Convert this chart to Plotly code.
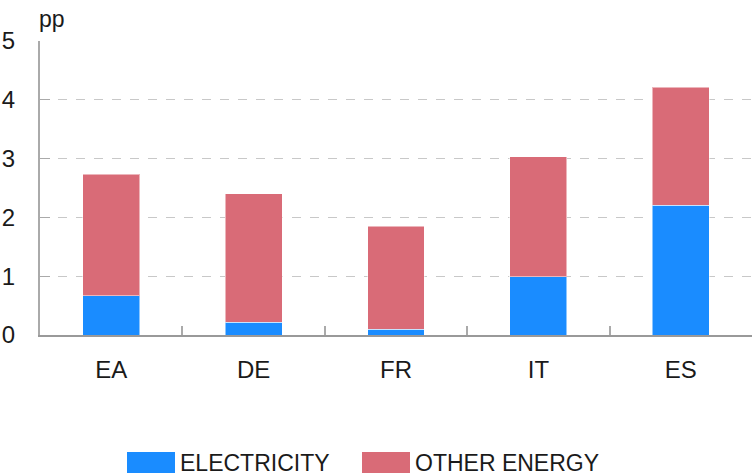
import plotly.graph_objects as go

categories = ["EA", "DE", "FR", "IT", "ES"]
electricity = [0.67, 0.22, 0.10, 0.99, 2.21]
other_energy = [2.06, 2.18, 1.75, 2.04, 2.00]
series_names = ["ELECTRICITY", "OTHER ENERGY"]
colors = ["#1a8cff", "#d96b77"]
y_ticks = [0, 1, 2, 3, 4, 5]

FONT = "Liberation Sans"
FS = 24
TXT = "#1a1a1a"

fig = go.Figure()
for name, vals, col in zip(series_names, [electricity, other_energy], colors):
    fig.add_trace(go.Bar(
        x=categories, y=vals, name=name, marker_color=col,
        marker_line=dict(color="rgba(255,255,255,0.5)", width=1),
        width=0.40, showlegend=False,
    ))

fig.update_layout(
    barmode="stack",
    width=754, height=476,
    margin=dict(l=40, r=2, t=41, b=141),
    paper_bgcolor="white", plot_bgcolor="white",
    font=dict(family=FONT, size=FS, color=TXT),
    xaxis=dict(
        showgrid=False, showline=True, linecolor="#999999", linewidth=2,
        ticks="inside", tickson="boundaries", ticklen=9, tickcolor="#aaaaaa", tickwidth=2,
        ticklabelstandoff=12, automargin=False,
        tickfont=dict(family=FONT, size=FS, color=TXT),
    ),
    yaxis=dict(
        range=[0, 5], tickvals=y_ticks, showline=True, linecolor="#aaaaaa", linewidth=2,
        showgrid=True, gridcolor="#c8c8c8", griddash="dash", gridwidth=1,
        ticks="inside", ticklen=10, tickcolor="#aaaaaa", tickwidth=1,
        ticklabelstandoff=18, zeroline=False, automargin=False,
        tickfont=dict(family=FONT, size=FS, color=TXT),
    ),
)

fig.add_annotation(x=0, y=1, xref="paper", yref="paper", text="pp", showarrow=False,
                   xanchor="left", yanchor="bottom", yshift=7, xshift=-3,
                   font=dict(family=FONT, size=23, color=TXT))

# custom legend with wide swatches
legend_x = [127, 362]  # pixel positions of swatches
for name, col, px in zip(series_names, colors, legend_x):
    x0 = (px - 40) / 712
    x1 = (px + 48 - 40) / 712
    y0 = -(473 - 335) / 294
    y1 = -(452 - 335) / 294
    fig.add_shape(type="rect", xref="paper", yref="paper", x0=x0, x1=x1, y0=y0, y1=y1,
                  fillcolor=col, line=dict(width=0))
    fig.add_annotation(x=(px + 51 - 40) / 712, y=(y0 + y1) / 2, xref="paper", yref="paper",
                       text=name, showarrow=False, xanchor="left", yanchor="middle",
                       font=dict(family=FONT, size=23, color=TXT))

fig.write_html("out.html", config={"displayModeBar": False},
               post_script="document.body.style.margin='0px';")
